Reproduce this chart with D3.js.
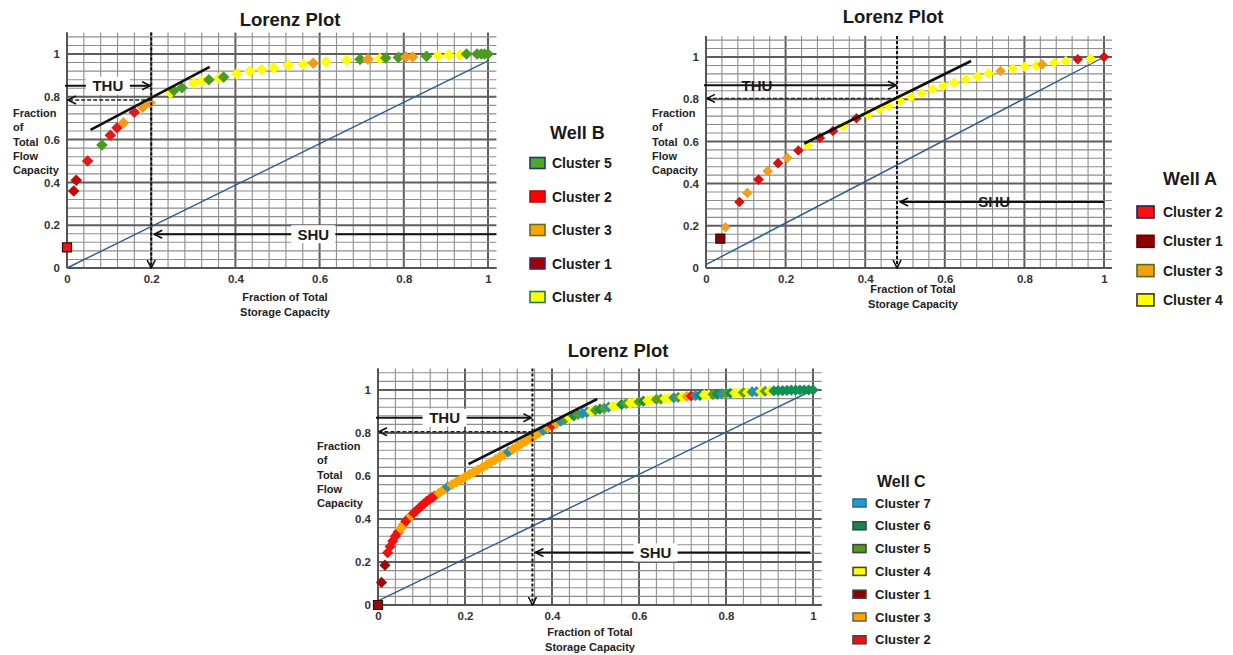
<!DOCTYPE html>
<html>
<head>
<meta charset="utf-8">
<script src="https://cdn.jsdelivr.net/npm/d3@7"></script>
<style>
  body { margin: 0; background: #fff; }
</style>
</head>
<body>
<script>
const FONT = "'Liberation Sans', Arial, sans-serif";

// shared tick labels
const tickValues = [0, 0.2, 0.4, 0.6, 0.8, 1];

// ---- Well B ----
const wellB_x = [0.0, 0.016, 0.022, 0.049, 0.083, 0.103, 0.119, 0.134, 0.16, 0.18, 0.197, 0.246, 0.254, 0.273, 0.301, 0.32, 0.337, 0.361, 0.372, 0.403, 0.434, 0.462, 0.491, 0.525, 0.561, 0.585, 0.615, 0.664, 0.696, 0.715, 0.743, 0.757, 0.787, 0.805, 0.821, 0.854, 0.881, 0.907, 0.933, 0.949, 0.974, 0.984, 0.992, 1.0];
const wellB_y = [0.096, 0.36, 0.41, 0.5, 0.575, 0.62, 0.655, 0.677, 0.728, 0.751, 0.772, 0.818, 0.829, 0.842, 0.863, 0.873, 0.88, 0.888, 0.892, 0.907, 0.919, 0.927, 0.935, 0.947, 0.952, 0.957, 0.963, 0.971, 0.975, 0.976, 0.979, 0.981, 0.984, 0.986, 0.986, 0.989, 0.992, 0.995, 0.997, 1.0, 1.0, 1.0, 1.0, 1.0];
const wellB_cluster = [2, 1, 1, 2, 5, 2, 2, 3, 2, 3, 3, 4, 5, 5, 4, 4, 5, 4, 5, 4, 4, 4, 4, 4, 4, 3, 4, 4, 5, 3, 4, 5, 5, 3, 3, 5, 4, 4, 4, 5, 5, 5, 5, 5];
const wellB_legend = [5, 2, 3, 1, 4];
const wellB_cut = [0.2, 0.785];          // storage cut-off, flow at cut-off
const wellB_arrows = [0.852, 0.158, 1.02]; // THU y, SHU y, SHU start x
const wellB_tangent = [[0.056, 0.645], [0.339, 0.94]];
const wellB_diag = [0, 0.968];

// ---- Well A ----
const wellA_x = [0.036, 0.049, 0.084, 0.104, 0.132, 0.155, 0.181, 0.204, 0.232, 0.256, 0.286, 0.319, 0.345, 0.378, 0.406, 0.436, 0.46, 0.488, 0.515, 0.542, 0.569, 0.596, 0.623, 0.653, 0.682, 0.71, 0.74, 0.771, 0.801, 0.83, 0.845, 0.875, 0.904, 0.934, 0.966, 1.0];
const wellA_y = [0.139, 0.193, 0.313, 0.356, 0.419, 0.459, 0.497, 0.522, 0.557, 0.582, 0.616, 0.649, 0.672, 0.71, 0.728, 0.752, 0.767, 0.791, 0.81, 0.828, 0.847, 0.862, 0.878, 0.894, 0.907, 0.922, 0.934, 0.945, 0.954, 0.96, 0.965, 0.973, 0.981, 0.989, 0.992, 1.0];
const wellA_cluster = [1, 3, 2, 3, 2, 3, 2, 3, 2, 4, 2, 2, 4, 2, 4, 4, 4, 4, 4, 4, 4, 4, 4, 4, 4, 4, 3, 4, 4, 4, 3, 4, 4, 2, 4, 2];
const wellA_legend = [2, 1, 3, 4];
const wellA_cut = [0.48, 0.804];
const wellA_arrows = [0.866, 0.313, 1.0];
const wellA_tangent = [[0.247, 0.59], [0.666, 0.981]];
const wellA_diag = [0.016, 1];

// ---- Well C ----
const wellC_x = [0, 0.008, 0.016, 0.022, 0.028, 0.034, 0.04, 0.046, 0.052, 0.058, 0.064, 0.07, 0.076, 0.082, 0.088, 0.094, 0.1, 0.106, 0.112, 0.118, 0.124, 0.13,
  0.14, 0.15, 0.16, 0.17, 0.18, 0.19, 0.2, 0.21, 0.22, 0.23, 0.24, 0.25, 0.26, 0.27, 0.28, 0.29, 0.3, 0.31, 0.32, 0.33, 0.34, 0.35, 0.36, 0.37, 0.38, 0.39,
  0.4, 0.41, 0.42, 0.43, 0.44, 0.45, 0.46, 0.47, 0.48, 0.49, 0.5, 0.51, 0.52, 0.53, 0.54, 0.55, 0.56, 0.57, 0.58, 0.59, 0.6, 0.61, 0.62, 0.63, 0.64,
  0.65, 0.66, 0.67, 0.68, 0.69, 0.7, 0.71, 0.72, 0.73, 0.74, 0.75, 0.76, 0.77, 0.78, 0.79, 0.8, 0.81, 0.82, 0.83, 0.84, 0.85, 0.86, 0.87, 0.88, 0.89,
  0.9, 0.91, 0.92, 0.93, 0.94, 0.95, 0.96, 0.97, 0.98, 0.99, 1.0];
const wellC_y = [0, 0.105, 0.185, 0.243, 0.272, 0.298, 0.32, 0.338, 0.355, 0.373, 0.39, 0.403, 0.415, 0.427, 0.438, 0.45, 0.461, 0.472, 0.482, 0.491, 0.499, 0.507,
  0.52, 0.535, 0.549, 0.56, 0.572, 0.583, 0.595, 0.607, 0.618, 0.629, 0.64, 0.652, 0.664, 0.676, 0.688, 0.7, 0.712, 0.724, 0.737, 0.75, 0.762, 0.775, 0.788, 0.8, 0.812, 0.824,
  0.835, 0.845, 0.855, 0.864, 0.872, 0.88, 0.886, 0.891, 0.896, 0.901, 0.906, 0.911, 0.915, 0.92, 0.924, 0.928, 0.932, 0.936, 0.939, 0.942, 0.945, 0.948, 0.951, 0.953, 0.956,
  0.958, 0.96, 0.962, 0.964, 0.966, 0.968, 0.97, 0.972, 0.974, 0.975, 0.977, 0.978, 0.98, 0.981, 0.983, 0.984, 0.985, 0.986, 0.987, 0.988, 0.99, 0.991, 0.992, 0.993, 0.994,
  0.995, 0.996, 0.997, 0.997, 0.998, 0.999, 0.999, 1.0, 1.0, 1.0, 1.0];
const wellC_cluster = [1, 1, 1, 2, 2, 2, 2, 2, 3, 3, 2, 2, 3, 2, 2, 2, 2, 2, 2, 2, 2, 2,
  3, 3, 7, 3, 3, 3, 3, 3, 3, 3, 3, 3, 3, 3, 3, 3, 7, 3, 3, 3, 3, 3, 3, 3, 7, 3,
  2, 3, 7, 5, 4, 6, 5, 7, 7, 4, 5, 6, 5, 7, 4, 4, 6, 5, 4, 4, 5, 6, 4, 4, 5,
  5, 4, 4, 7, 5, 4, 3, 2, 7, 6, 4, 4, 5, 6, 7, 5, 6, 4, 4, 5, 4, 7, 7, 4, 5,
  4, 6, 6, 6, 6, 6, 6, 6, 6, 6, 6];
const wellC_legend = [7, 6, 5, 4, 1, 3, 2];
const wellC_cut = [0.355, 0.806];
const wellC_arrows = [0.871, 0.244, 0.994];
const wellC_tangent = [[0.208, 0.655], [0.504, 0.958]];
const wellC_diag = [0.019, 1];

const svg = d3.select("body").append("svg")
  .attr("width", 1233)
  .attr("height", 655)
  .style("font-family", FONT);

svg.append("rect").attr("width", 1233).attr("height", 655).attr("fill", "#fff");

// open arrow head
svg.append("defs").append("marker")
  .attr("id", "arr")
  .attr("viewBox", "0 0 10 10")
  .attr("refX", 9).attr("refY", 5)
  .attr("markerWidth", 10).attr("markerHeight", 10)
  .attr("markerUnits", "userSpaceOnUse")
  .attr("orient", "auto")
  .append("path")
  .attr("d", "M1,1 L9,5 L1,9")
  .attr("fill", "none")
  .attr("stroke", "#111")
  .attr("stroke-width", 1.6);

function drawPlot(o) {
  let x = d3.scaleLinear().domain([0, 1]).range(o.xr);
  let y = d3.scaleLinear().domain([0, 1]).range(o.yr);
  const xMax = 1.02, yMax = 1.1;
  let g = svg.append("g");

  // grid (minor every 0.04, major every 0.2)
  g.append("g").selectAll("line").data(d3.range(26)).join("line")
    .attr("x1", i => x(i * 0.04)).attr("x2", i => x(i * 0.04))
    .attr("y1", y(0)).attr("y2", y(yMax))
    .attr("stroke", i => i % 5 ? "#8e8e8e" : "#5e5e5e")
    .attr("stroke-width", i => i % 5 ? 1.1 : 2);
  g.append("g").selectAll("line").data(d3.range(28)).join("line")
    .attr("y1", i => y(i * 0.04)).attr("y2", i => y(i * 0.04))
    .attr("x1", x(0)).attr("x2", x(xMax))
    .attr("stroke", i => i % 5 ? "#8e8e8e" : "#5e5e5e")
    .attr("stroke-width", i => i % 5 ? 1.1 : 2);

  g.append("line").attr("x1", x(0)).attr("x2", x(xMax)).attr("y1", y(0)).attr("y2", y(0))
    .attr("stroke", "#555").attr("stroke-width", 2);
  g.append("line").attr("x1", x(0)).attr("x2", x(0)).attr("y1", y(0)).attr("y2", y(yMax))
    .attr("stroke", "#555").attr("stroke-width", 2);

  // axes
  let xa = g.append("g").attr("transform", "translate(0," + y(0) + ")")
    .call(d3.axisBottom(x).tickValues(tickValues).tickSize(0).tickPadding(7).tickFormat(d3.format("")));
  let ya = g.append("g").attr("transform", "translate(" + x(0) + ",0)")
    .call(d3.axisLeft(y).tickValues(tickValues).tickSize(0).tickPadding(7).tickFormat(d3.format("")));
  [xa, ya].forEach(a => {
    a.select(".domain").remove();
    a.attr("font-family", FONT).attr("font-size", 11.5).attr("font-weight", "bold");
    a.selectAll("text").attr("fill", "#333");
  });

  // equal-flow diagonal
  g.append("line")
    .attr("x1", x(0)).attr("y1", y(o.diag[0]))
    .attr("x2", x(1)).attr("y2", y(o.diag[1]))
    .attr("stroke", "#2b5c94").attr("stroke-width", 1.4);

  // points
  let pts = o.xs.map((d, i) => ({ x: d, y: o.ys[i], c: o.cl[i], i: i }));
  let r = o.r, s = o.sq / 2;
  g.append("g").selectAll("path").data(pts).join("path")
    .attr("transform", d => "translate(" + x(d.x) + "," + y(d.y) + ")")
    .attr("d", d => d.i === 0
      ? "M" + (-s) + "," + (-s) + "H" + s + "V" + s + "H" + (-s) + "Z"
      : "M0," + (-r) + "L" + r + ",0L0," + r + "L" + (-r) + ",0Z")
    .attr("fill", d => o.colors[d.c])
    .attr("stroke", d => d.i === 0 ? "#3a0a0a" : "none")
    .attr("stroke-width", 1.2);

  // cut-off lines
  let cut = o.cut[0];
  g.append("line")
    .attr("x1", x(cut)).attr("y1", y(yMax)).attr("x2", x(cut)).attr("y2", y(0))
    .attr("stroke", "#111").attr("stroke-width", 2).attr("stroke-dasharray", "3,2")
    .attr("marker-end", "url(#arr)");
  g.append("line")
    .attr("x1", x(cut)).attr("y1", y(o.cut[1])).attr("x2", x(0) + 1).attr("y2", y(o.cut[1]))
    .attr("stroke", "#222").attr("stroke-width", 1.4).attr("stroke-dasharray", "4,2")
    .attr("marker-end", "url(#arr)");

  // THU / SHU arrows
  g.append("line")
    .attr("x1", x(0) - 2).attr("y1", y(o.arrows[0])).attr("x2", x(cut) - 1).attr("y2", y(o.arrows[0]))
    .attr("stroke", "#111").attr("stroke-width", 2).attr("marker-end", "url(#arr)");
  g.append("line")
    .attr("x1", x(o.arrows[2])).attr("y1", y(o.arrows[1])).attr("x2", x(cut) + 3).attr("y2", y(o.arrows[1]))
    .attr("stroke", "#111").attr("stroke-width", 2).attr("marker-end", "url(#arr)");

  [["THU", o.thuX, o.arrows[0]], ["SHU", o.shuX, o.arrows[1]]].forEach(t => {
    let cx = x(t[1]), cy = y(t[2]);
    if (o.gap) {
      g.append("rect").attr("x", cx - 22).attr("y", cy - 9).attr("width", 44).attr("height", 18).attr("fill", "#fff");
    }
    g.append("text").attr("x", cx).attr("y", cy + 5.5)
      .attr("text-anchor", "middle").attr("font-size", 15).attr("font-weight", "bold")
      .attr("fill", "#1a1a1a").text(t[0]);
  });

  // tangent
  g.append("line")
    .attr("x1", x(o.tangent[0][0])).attr("y1", y(o.tangent[0][1]))
    .attr("x2", x(o.tangent[1][0])).attr("y2", y(o.tangent[1][1]))
    .attr("stroke", "#111").attr("stroke-width", 2.6);

  // titles
  g.append("text").attr("x", o.titlePos[0]).attr("y", o.titlePos[1])
    .attr("text-anchor", "middle").attr("font-size", 18.5).attr("font-weight", "bold")
    .attr("fill", "#1a1a1a").text("Lorenz Plot");

  let xt = g.append("text").attr("text-anchor", "middle").attr("font-size", 11)
    .attr("font-weight", "bold").attr("fill", "#222");
  ["Fraction of Total", "Storage Capacity"].forEach((l, i) => {
    xt.append("tspan").attr("x", o.xTitle[0]).attr("y", o.xTitle[1] + i * 14.5).text(l);
  });

  let yt = g.append("text").attr("font-size", 11).attr("font-weight", "bold").attr("fill", "#222");
  ["Fraction", "of", "Total", "Flow", "Capacity"].forEach((l, i) => {
    yt.append("tspan").attr("x", o.yTitle[0]).attr("y", o.yTitle[1] + i * 14.3).text(l);
  });

  // legend
  let L = o.legend;
  g.append("text").attr("x", L.titleX).attr("y", L.titleY)
    .attr("font-size", L.titleSize).attr("font-weight", "bold").attr("fill", "#1a1a1a")
    .text(o.name);
  let items = g.append("g").selectAll("g").data(o.legendIds).join("g")
    .attr("transform", (d, i) => "translate(" + L.x + "," + (L.y + i * L.step) + ")");
  items.append("rect")
    .attr("x", 0).attr("y", -L.h / 2).attr("width", L.w).attr("height", L.h)
    .attr("fill", d => o.legendColors[d]).attr("stroke", d => o.legendBorder[d])
    .attr("stroke-width", 1.6);
  items.append("text")
    .attr("x", L.textX).attr("y", L.fontSize * 0.36)
    .attr("font-size", L.fontSize).attr("font-weight", "bold").attr("fill", "#1a1a1a")
    .text(d => "Cluster " + d);
}

drawPlot({
  name: "Well B",
  xs: wellB_x, ys: wellB_y, cl: wellB_cluster, legendIds: wellB_legend,
  cut: wellB_cut, arrows: wellB_arrows, tangent: wellB_tangent, diag: wellB_diag,
  xr: [67, 488], yr: [268, 54], r: 5.8, sq: 9, gap: true,
  thuX: 0.097, shuX: 0.585,
  colors: { 1: "#c20a0a", 2: "#e41a1a", 3: "#f29a1c", 4: "#ffff00", 5: "#4c9a1f" },
  legendColors: { 1: "#a00000", 2: "#ff0000", 3: "#ffa500", 4: "#ffff00", 5: "#4fa82a" },
  legendBorder: { 1: "#5a2060", 2: "#b01010", 3: "#6b6b20", 4: "#1b7a5a", 5: "#1f3b6b" },
  titlePos: [290, 26], xTitle: [285, 301], yTitle: [13, 117],
  legend: { titleX: 550, titleY: 139, titleSize: 18, x: 530, y: 163, step: 33.5, w: 15, h: 11, textX: 22, fontSize: 14 }
});

drawPlot({
  name: "Well A",
  xs: wellA_x, ys: wellA_y, cl: wellA_cluster, legendIds: wellA_legend,
  cut: wellA_cut, arrows: wellA_arrows, tangent: wellA_tangent, diag: wellA_diag,
  xr: [706, 1104], yr: [268, 57], r: 5.3, sq: 9, gap: false,
  thuX: 0.128, shuX: 0.724,
  colors: { 1: "#8b0000", 2: "#d81010", 3: "#f0a020", 4: "#ffff00" },
  legendColors: { 1: "#8b0000", 2: "#ff1010", 3: "#f5a010", 4: "#ffff00" },
  legendBorder: { 1: "#700000", 2: "#202060", 3: "#5a6a20", 4: "#333" },
  titlePos: [893, 23], xTitle: [913, 293], yTitle: [652, 117],
  legend: { titleX: 1163, titleY: 185, titleSize: 18, x: 1137, y: 212, step: 29.3, w: 17, h: 12, textX: 26, fontSize: 14 }
});

drawPlot({
  name: "Well C",
  xs: wellC_x, ys: wellC_y, cl: wellC_cluster, legendIds: wellC_legend,
  cut: wellC_cut, arrows: wellC_arrows, tangent: wellC_tangent, diag: wellC_diag,
  xr: [378, 813], yr: [605, 390], r: 5.6, sq: 9, gap: true,
  thuX: 0.153, shuX: 0.638,
  colors: { 1: "#9a0a0a", 2: "#ee1111", 3: "#ffa500", 4: "#ffff00", 5: "#5a9e1e", 6: "#11904f", 7: "#2a8fb0" },
  legendColors: { 1: "#8b0000", 2: "#ee1111", 3: "#ffa500", 4: "#ffff00", 5: "#4f9a1a", 6: "#0f8a4a", 7: "#1e9ad6" },
  legendBorder: { 1: "#444", 2: "#444", 3: "#666", 4: "#444", 5: "#444", 6: "#444", 7: "#3a6a8a" },
  titlePos: [618, 357], xTitle: [590, 636], yTitle: [317, 450],
  legend: { titleX: 877, titleY: 487, titleSize: 16, x: 853, y: 503, step: 22.8, w: 13, h: 8, textX: 22, fontSize: 13 }
});
</script>
</body>
</html>
